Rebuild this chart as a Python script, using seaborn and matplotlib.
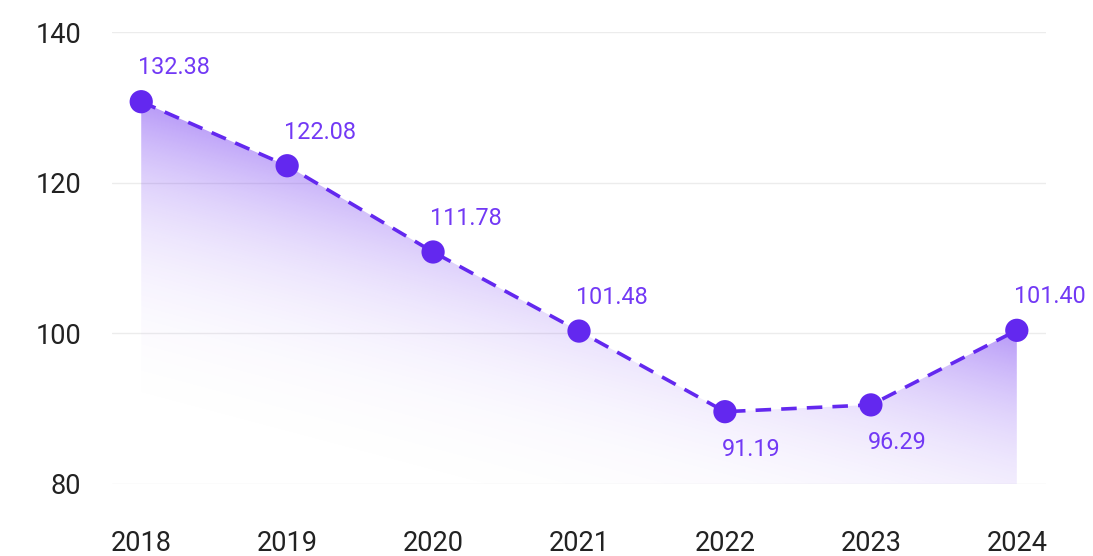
import matplotlib
matplotlib.use("Agg")
import matplotlib.pyplot as plt
import seaborn as sns
import numpy as np
import pandas as pd

# Data
years = [2018, 2019, 2020, 2021, 2022, 2023, 2024]
values = [130.75, 122.25, 110.8, 100.3, 89.6, 90.5, 100.4]
value_labels = ["132.38", "122.08", "111.78", "101.48", "91.19", "96.29", "101.40"]
label_below = [False, False, False, False, True, True, False]
y_ticks = [80, 100, 120, 140]

purple = "#6328EF"
label_color = "#7239F5"

sns.set_theme(style="white")
plt.rcParams["font.family"] = ["Roboto", "DejaVu Sans"]

df = pd.DataFrame({"year": years, "value": values})

fig = plt.figure(figsize=(10.93, 5.56), dpi=100)
ax = fig.add_axes([0.1025, 0.1295, 0.8545, 0.8129])

x_min, x_max = 2017.80, 2024.20
y_min, y_max = 80, 140
ax.set_xlim(x_min, x_max)
ax.set_ylim(y_min, y_max)

# Gradient fill under the line, clipped to the area polygon
ny, nx = 300, 600
u = np.linspace(0, 1, nx)[None, :]
v = np.linspace(0, 1, ny)[:, None]
t = np.clip(v + 0.55 * u, 0, 1)
alpha = 0.8 * t ** 3.5
rgba = np.zeros((ny, nx, 4))
rgba[..., 0] = 0x6A / 255
rgba[..., 1] = 0x2C / 255
rgba[..., 2] = 0xF0 / 255
rgba[..., 3] = alpha
poly = ax.fill_between(df["year"], df["value"], y_min, color="none", lw=0)
img = ax.imshow(rgba, extent=(x_min, x_max, y_min, y_max), origin="lower",
                aspect="auto", zorder=1, interpolation="bilinear")
img.set_clip_path(poly.get_paths()[0], transform=ax.transData)

# Dashed line and markers
sns.lineplot(data=df, x="year", y="value", ax=ax, color=purple, lw=2.6,
             zorder=3)
ax.lines[-1].set_dashes((4.3, 2.8))
sns.scatterplot(data=df, x="year", y="value", ax=ax, color=purple, s=280,
                edgecolor="none", zorder=4)

# Value labels
for yr, val, txt, below in zip(years, values, value_labels, label_below):
    if below:
        ax.annotate(txt, (yr, val), xytext=(-2, -19), textcoords="offset points",
                    ha="left", va="top", color=label_color, fontsize=16.8)
    else:
        ax.annotate(txt, (yr, val), xytext=(-2, 16), textcoords="offset points",
                    ha="left", va="bottom", color=label_color, fontsize=16.8)

# Axes styling
ax.set_yticks(y_ticks)
ax.set_xticks(years)
ax.set_xticklabels([str(y) for y in years])
ax.grid(axis="y", color="#ececec", lw=1)
ax.grid(axis="x", visible=False)
for s in ax.spines.values():
    s.set_visible(False)
ax.tick_params(axis="y", length=0, pad=22, labelsize=19.5, labelcolor="#222222")
ax.tick_params(axis="x", length=0, pad=33, labelsize=19.5, labelcolor="#222222")
ax.set_xlabel("")
ax.set_ylabel("")
ax.set_axisbelow(True)

fig.savefig("out.png", dpi=100, facecolor="white")
